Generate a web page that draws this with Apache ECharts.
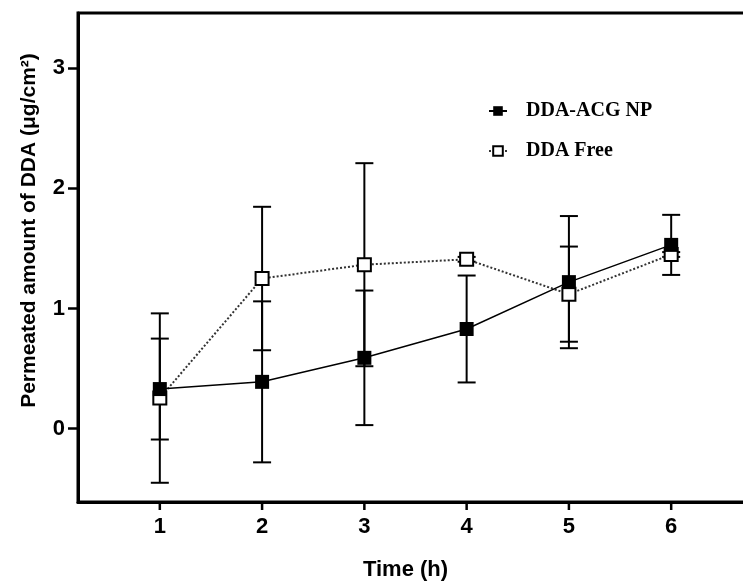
<!DOCTYPE html>
<html>
<head>
<meta charset="utf-8">
<script src="https://cdn.jsdelivr.net/npm/echarts@6/dist/echarts.min.js"></script>
<style>
  html, body { margin: 0; padding: 0; background: #fff; }
  #chart { width: 743px; height: 587px; }
</style>
</head>
<body>
<div id="chart"></div>
<script>
// data
const time = [1, 2, 3, 4, 5, 6];
const npMean = [0.33, 0.39, 0.59, 0.83, 1.22, 1.53];
const npSd = [0.42, 0.67, 0.56, 0.445, 0.55, 0.25];
const freeMean = [0.255, 1.25, 1.365, 1.41, 1.12, 1.45];
const freeSd = [0.705, 0.597, 0.845, 0.02, 0.396, 0.02];
const xTicks = [1, 2, 3, 4, 5, 6];
const yTicks = [0, 1, 2, 3];

const points = (mean) => time.map((t, i) => [t, mean[i]]);
const bars = (mean, sd) => time.map((t, i) => [t, mean[i] - sd[i], mean[i] + sd[i]]);

// error bar with caps
const errItem = (params, api) => {
  const x = api.value(0);
  const top = api.coord([x, api.value(2)]);
  const bot = api.coord([x, api.value(1)]);
  const w = 9;
  const st = { stroke: '#000', lineWidth: 2 };
  return {
    type: 'group',
    children: [
      { type: 'line', shape: { x1: top[0], y1: top[1], x2: bot[0], y2: bot[1] }, style: st },
      { type: 'line', shape: { x1: top[0] - w, y1: top[1], x2: top[0] + w, y2: top[1] }, style: st },
      { type: 'line', shape: { x1: bot[0] - w, y1: bot[1], x2: bot[0] + w, y2: bot[1] }, style: st }
    ]
  };
};

// x ticks below the frame (axisTick customValues did not show on this axis)
const xTickItem = (params, api) => {
  const px = api.coord([api.value(0), 0])[0];
  const bottom = params.coordSys.y + params.coordSys.height;
  return {
    type: 'line',
    shape: { x1: px, y1: bottom, x2: px, y2: bottom + 8 },
    style: { stroke: '#000', lineWidth: 2.5 }
  };
};

const axisFont = { fontFamily: 'Liberation Sans, Arial', fontWeight: 'bold', fontSize: 22, color: '#000' };

let myChart = echarts.init(document.getElementById('chart'));
myChart.setOption({
  animation: false,
  grid: {
    left: 78, right: -10, top: 13, bottom: 85,
    show: true, borderColor: '#000', borderWidth: 3,
    outerBoundsMode: 'none'
  },
  legend: {
    data: ['DDA-ACG NP', 'DDA Free'],
    orient: 'vertical',
    left: 483,
    top: 96,
    itemWidth: 18,
    itemHeight: 12,
    itemGap: 20,
    textStyle: {
      fontFamily: 'Liberation Serif, Times New Roman',
      fontWeight: 'bold',
      fontSize: 20,
      color: '#000',
      padding: [0, 0, 0, 14]
    }
  },
  xAxis: {
    type: 'value',
    min: 0.2,
    max: 6.8,
    name: 'Time (h)',
    nameLocation: 'middle',
    nameGap: 57,
    nameTextStyle: { ...axisFont, padding: [0, 20, 0, 0] },
    axisLine: { show: true, onZero: false, lineStyle: { color: '#000', width: 3 } },
    axisTick: { show: false },
    axisLabel: { ...axisFont, margin: 14, customValues: xTicks },
    splitLine: { show: false }
  },
  yAxis: {
    type: 'value',
    min: -0.61,
    max: 3.46,
    name: 'Permeated amount of DDA (μg/cm²)',
    nameLocation: 'middle',
    nameGap: 38,
    nameTextStyle: { ...axisFont, fontSize: 21, padding: [0, 0, 0, 54] },
    axisLine: { show: true, onZero: false, lineStyle: { color: '#000', width: 3 } },
    axisTick: { show: true, length: 10, customValues: yTicks, lineStyle: { color: '#000', width: 2.5 } },
    axisLabel: { ...axisFont, margin: 13, customValues: yTicks },
    splitLine: { show: false }
  },
  series: [
    {
      type: 'custom',
      renderItem: xTickItem,
      data: xTicks.map((v) => [v, 0]),
      clip: false,
      silent: true,
      z: 5
    },
    {
      type: 'custom',
      renderItem: errItem,
      data: bars(freeMean, freeSd),
      z: 2
    },
    {
      type: 'custom',
      renderItem: errItem,
      data: bars(npMean, npSd),
      z: 2
    },
    {
      name: 'DDA Free',
      type: 'line',
      data: points(freeMean),
      symbol: 'rect',
      symbolSize: 13,
      itemStyle: { color: '#fff', borderColor: '#000', borderWidth: 2 },
      lineStyle: { color: '#333', width: 2, type: 'dotted' },
      z: 3
    },
    {
      name: 'DDA-ACG NP',
      type: 'line',
      data: points(npMean),
      symbol: 'rect',
      symbolSize: 14,
      itemStyle: { color: '#000' },
      lineStyle: { color: '#000', width: 1.5 },
      z: 4
    }
  ]
});
</script>
</body>
</html>
